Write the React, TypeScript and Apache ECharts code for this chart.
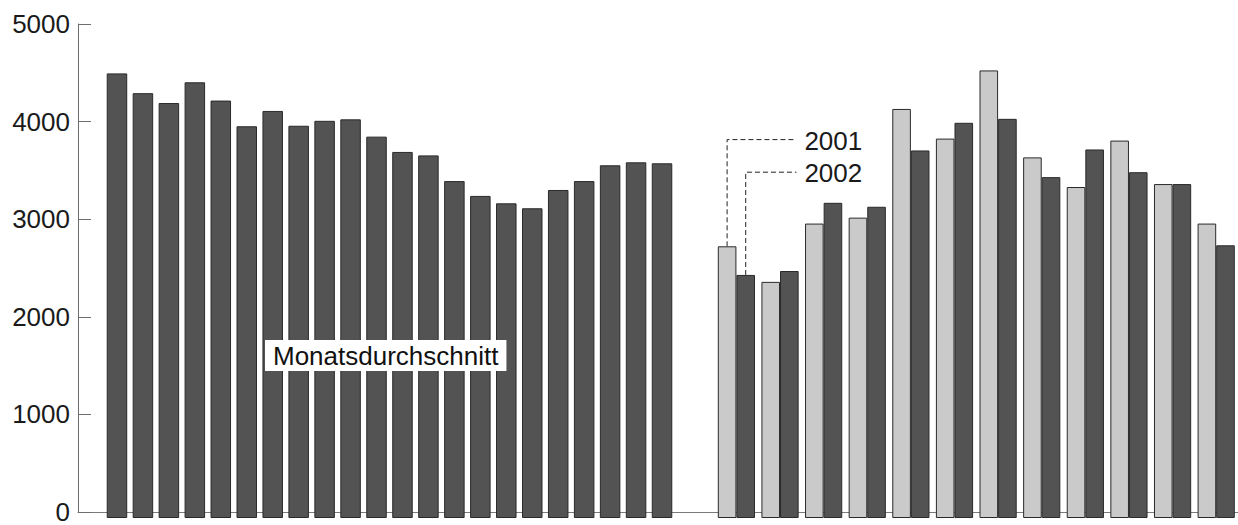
import React, { useEffect, useRef } from "react";
import * as echarts from "echarts";

// Monatsdurchschnitt (one bar per year, labels not printed in the original)
const YEARS = [
  "1981", "1982", "1983", "1984", "1985", "1986", "1987", "1988", "1989", "1990", "1991",
  "1992", "1993", "1994", "1995", "1996", "1997", "1998", "1999", "2000", "2001", "2002",
];
const AVG = [
  4500, 4300, 4200, 4410, 4225, 3965, 4120, 3970, 4020, 4035, 3860,
  3705, 3670, 3410, 3260, 3185, 3135, 3320, 3410, 3570, 3600, 3590,
];

// Monthly values 2001 / 2002
const MONTHS = ["Jan", "Feb", "Mär", "Apr", "Mai", "Jun", "Jul", "Aug", "Sep", "Okt", "Nov", "Dez"];
const Y2001 = [2750, 2390, 2980, 3040, 4140, 3840, 4530, 3650, 3350, 3820, 3380, 2980];
const Y2002 = [2460, 2500, 3190, 3150, 3720, 4000, 4040, 3450, 3730, 3500, 3380, 2760];

const Y_TICKS = [0, 1000, 2000, 3000, 4000, 5000];
const LEADER_LEVEL_2001 = 3830;
const LEADER_LEVEL_2002 = 3500;
const AVG_LABEL = "Monatsdurchschnitt";

const FONT = "'Liberation Sans', Arial, Helvetica, sans-serif";
const DARK = "#535353";
const LIGHT = "#cacaca";
const EDGE = "#2a2a2a";
const PAIR_BAR_W = 18.6;

export default function App() {
  const ref = useRef<HTMLDivElement>(null);

  useEffect(() => {
    if (!ref.current) return;
    const chart = echarts.init(ref.current, null, { renderer: "svg" });
    const yMax = Y_TICKS[Y_TICKS.length - 1];
    const hiddenY = (gi: number) => ({
      type: "value",
      gridIndex: gi,
      min: 0,
      max: yMax,
      show: false,
    });
    const hiddenCat = (gi: number, data: string[]) => ({
      type: "category",
      gridIndex: gi,
      data,
      show: false,
      boundaryGap: true,
    });

    chart.setOption({
      animation: false,
      backgroundColor: "#ffffff",
      grid: [
        { left: 78, right: 0, top: 24, bottom: 7 },
        { left: 104, width: 571, top: 24, bottom: 7 },
        { left: 714.6, width: 535.7, top: 24, bottom: 7 },
      ],
      xAxis: [
        {
          type: "value",
          gridIndex: 0,
          min: 0,
          max: 1,
          axisLine: { show: true, lineStyle: { color: "#7a7a7a", width: 1 } },
          axisTick: { show: false },
          axisLabel: { show: false },
          splitLine: { show: false },
        },
        hiddenCat(1, YEARS),
        hiddenCat(2, MONTHS),
      ],
      yAxis: [
        {
          type: "value",
          gridIndex: 0,
          min: 0,
          max: yMax,
          interval: 1000,
          axisLine: { show: true, lineStyle: { color: "#6e6e6e", width: 1 } },
          axisTick: { show: true, inside: true, length: 13, lineStyle: { color: "#6e6e6e" } },
          axisLabel: {
            fontSize: 26,
            fontFamily: FONT,
            color: "#1a1a1a",
            margin: 8,
            formatter: (v: number) => String(v),
          },
          splitLine: { show: false },
        },
        hiddenY(1),
        hiddenY(2),
      ],
      series: [
        {
          name: AVG_LABEL,
          type: "bar",
          xAxisIndex: 1,
          yAxisIndex: 1,
          data: AVG,
          barWidth: 20.5,
          itemStyle: { color: DARK, borderColor: EDGE, borderWidth: 1 },
        },
        {
          name: "2001",
          type: "bar",
          xAxisIndex: 2,
          yAxisIndex: 2,
          data: Y2001,
          barWidth: PAIR_BAR_W,
          barGap: "0%",
          itemStyle: { color: LIGHT, borderColor: EDGE, borderWidth: 1 },
        },
        {
          name: "2002",
          type: "bar",
          xAxisIndex: 2,
          yAxisIndex: 2,
          data: Y2002,
          barWidth: PAIR_BAR_W,
          barGap: "0%",
          itemStyle: { color: DARK, borderColor: EDGE, borderWidth: 1 },
        },
      ],
    });

    // leader lines for 2001 / 2002, anchored on the first month's bars
    const c0 = chart.convertToPixel({ xAxisIndex: 2 }, 0) as number;
    const x2001 = c0 - PAIR_BAR_W / 2;
    const x2002 = c0 + PAIR_BAR_W / 2;
    const top2001 = chart.convertToPixel({ yAxisIndex: 2 }, Y2001[0]) as number;
    const top2002 = chart.convertToPixel({ yAxisIndex: 2 }, Y2002[0]) as number;
    const lvl2001 = chart.convertToPixel({ yAxisIndex: 2 }, LEADER_LEVEL_2001) as number;
    const lvl2002 = chart.convertToPixel({ yAxisIndex: 2 }, LEADER_LEVEL_2002) as number;
    const lineEnd = c0 + 60;
    const textX = c0 + 68;
    const dashStyle = { stroke: "#222", lineWidth: 1, lineDash: [5, 3], fill: null };
    const labelText = (text: string, y: number) => ({
      type: "text",
      x: textX,
      y,
      style: {
        text,
        font: `26px ${FONT}`,
        fill: "#1a1a1a",
        align: "left",
        verticalAlign: "middle",
        textAlign: "left",
        textVerticalAlign: "middle",
      },
    });

    chart.setOption({
      graphic: [
        {
          type: "polyline",
          shape: { points: [[x2001, top2001], [x2001, lvl2001], [lineEnd, lvl2001]] },
          style: dashStyle,
        },
        {
          type: "polyline",
          shape: { points: [[x2002, top2002], [x2002, lvl2002], [lineEnd, lvl2002]] },
          style: dashStyle,
        },
        labelText("2001", lvl2001 + 1),
        labelText("2002", lvl2002 + 1),
        {
          type: "text",
          x: 265,
          y: 340,
          z: 10,
          style: {
            text: AVG_LABEL,
            font: `26px ${FONT}`,
            fill: "#111",
            lineHeight: 26,
            backgroundColor: "#ffffff",
            padding: [3, 8, 2, 8],
            align: "left",
            verticalAlign: "top",
            textAlign: "left",
            textVerticalAlign: "top",
          },
        },
      ],
    });

    return () => chart.dispose();
  }, []);

  return (
    <div
      ref={ref}
      style={{ position: "fixed", left: 0, top: 0, width: "1238px", height: "525px", background: "#fff" }}
    />
  );
}
